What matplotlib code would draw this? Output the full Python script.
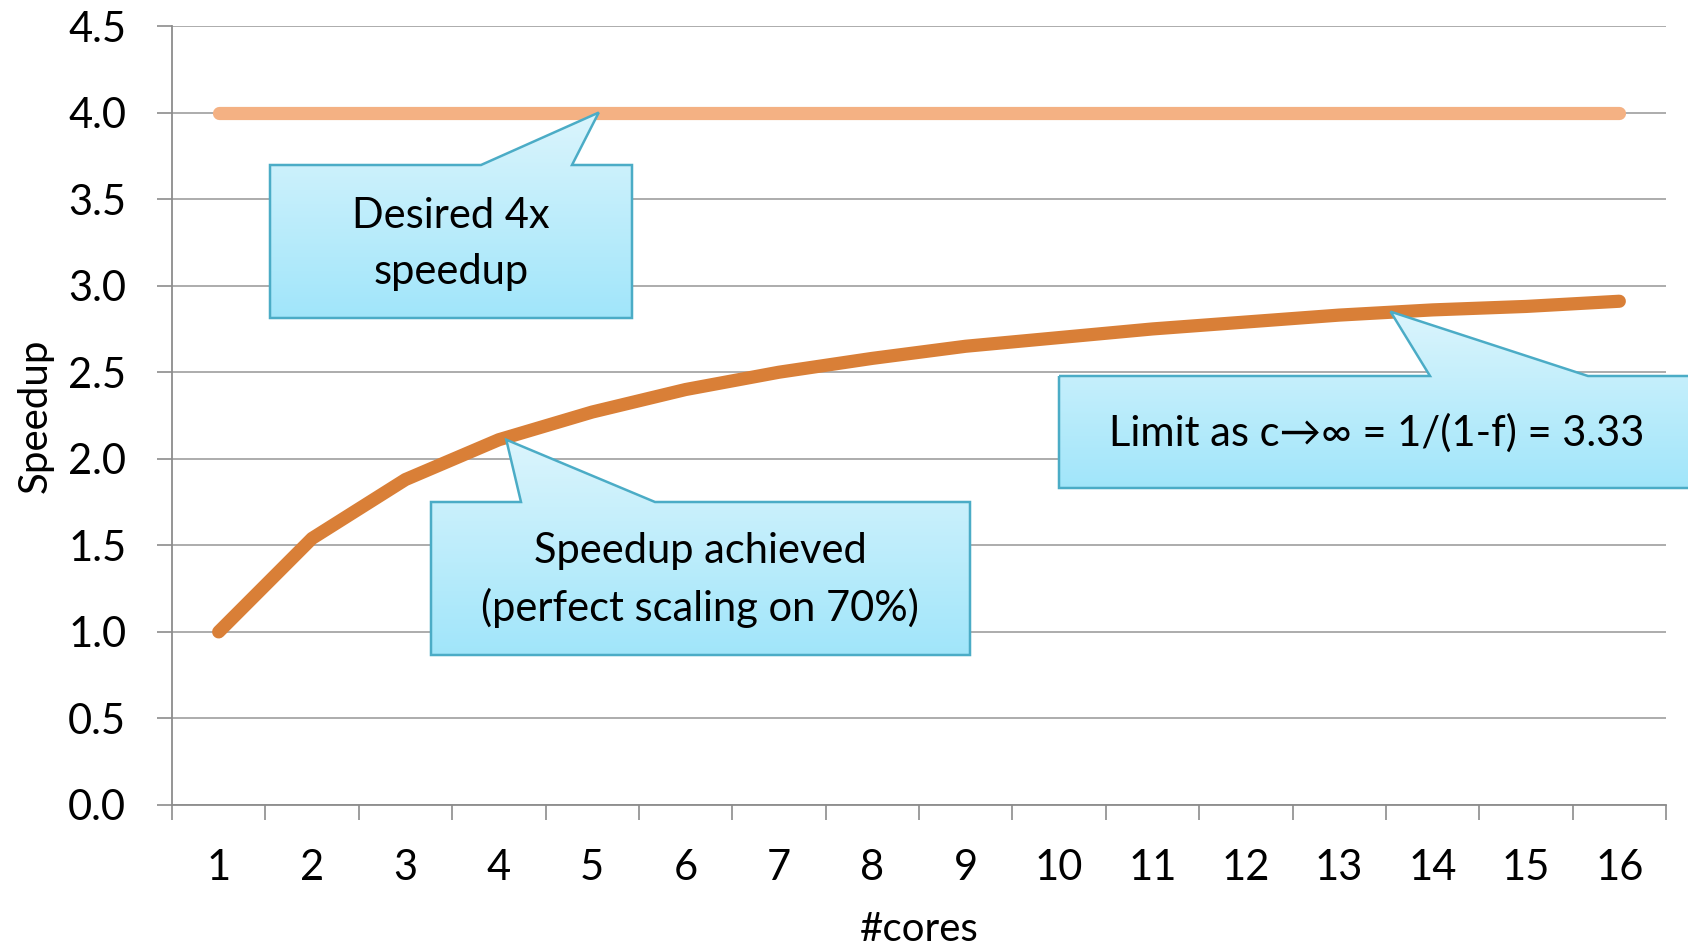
import matplotlib.pyplot as plt
import numpy as np
from matplotlib.patches import Polygon

plt.rcParams['font.family'] = ['Lato', 'DejaVu Sans']

cores = list(range(1, 17))
core_labels = [str(c) for c in cores]
desired = [4.0, 4.0, 4.0, 4.0, 4.0, 4.0, 4.0, 4.0, 4.0, 4.0, 4.0, 4.0, 4.0, 4.0, 4.0, 4.0]
achieved = [1.0, 1.54, 1.88, 2.11, 2.27, 2.40, 2.50, 2.58, 2.65, 2.70, 2.75, 2.79, 2.83, 2.86, 2.88, 2.91]
y_ticks = [0.0, 0.5, 1.0, 1.5, 2.0, 2.5, 3.0, 3.5, 4.0, 4.5]

fig = plt.figure(figsize=(16.88, 9.51), dpi=100)
ax = fig.add_axes([172 / 1688, 146 / 951, (1666 - 172) / 1688, (805 - 26) / 951])

ax.plot(cores, desired, color="#F4B183", lw=9.5, solid_capstyle="round", zorder=3)
ax.plot(cores, achieved, color="#D97F37", lw=9.5, solid_capstyle="round",
        solid_joinstyle="round", zorder=3)

ax.set_xlim(0.5, 16.5)
ax.set_ylim(0, 4.5)
ax.set_yticks(y_ticks)
ax.set_yticklabels([f"{v:.1f}" for v in y_ticks])
ax.set_xticks(cores)
ax.set_xticklabels(core_labels)
ax.set_xticks(np.arange(0.5, 17, 1), minor=True)
ax.tick_params(axis="x", which="major", length=0, pad=32, labelsize=30)
ax.tick_params(axis="x", which="minor", length=11, width=1.2, color="#8C8C8C")
ax.tick_params(axis="y", length=11, width=1.2, color="#8C8C8C", pad=22, labelsize=30)
ax.yaxis.grid(True, color="#A6A6A6", lw=1.3)
ax.set_axisbelow(True)
for s in ["top", "right"]:
    ax.spines[s].set_visible(False)
for s in ["left", "bottom"]:
    ax.spines[s].set_color("#8C8C8C")
    ax.spines[s].set_linewidth(1.3)

ax.set_xlabel("#cores", fontsize=29, labelpad=17)
ax.set_ylabel("Speedup", fontsize=29, labelpad=10)

# overlay in pixel coordinates for the callouts
ov = fig.add_axes([0, 0, 1, 1], zorder=10)
ov.set_xlim(0, 1688)
ov.set_ylim(951, 0)
ov.axis("off")


def to_px(x, y):
    return ov.transData.inverted().transform(ax.transData.transform((x, y)))


grad = np.linspace(0, 1, 256).reshape(-1, 1)
top_c = np.array([0.86, 0.96, 0.99])
bot_c = np.array([0.63, 0.90, 0.98])
grad_img = top_c + (bot_c - top_c) * grad[:, :, None] * np.ones((1, 1, 3))


def callout(box, base, tip, text, text_xy):
    l, t, r, b = box
    tx, ty = to_px(*tip)
    pts = [(l, t), (base[0], t), (tx, ty), (base[1], t), (r, t), (r, b), (l, b)]
    poly = Polygon(pts, closed=True, facecolor="none", edgecolor="#4BACC6", lw=1.8, zorder=3)
    ov.add_patch(poly)
    im = ov.imshow(grad_img, extent=(l, r, b, ty), aspect="auto", zorder=2)
    im.set_clip_path(poly)
    ov.text(text_xy[0], text_xy[1], text, ha="center", va="center", fontsize=30,
            linespacing=1.55, zorder=4)


callout((270, 165, 632, 318), (481, 572), (5.07, 4.0), "Desired 4x\nspeedup", (451, 244))
callout((431, 502, 970, 655), (521, 655), (4.08, 2.11),
        "Speedup achieved\n(perfect scaling on 70%)", (700, 580))
callout((1059, 376, 1720, 488), (1430, 1588), (13.55, 2.85),
        "Limit as c\u2192\u221e = 1/(1-f) = 3.33", (1377, 433))

ov.set_xlim(0, 1688)
ov.set_ylim(951, 0)

fig.savefig("out.png", dpi=100)
